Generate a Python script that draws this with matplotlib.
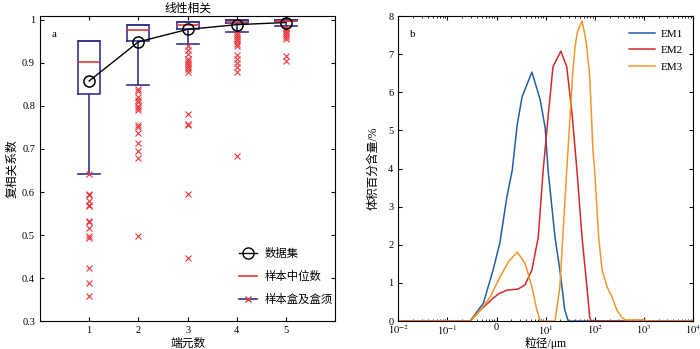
import matplotlib
matplotlib.use("Agg")
import matplotlib.pyplot as plt
from matplotlib.lines import Line2D

plt.rcParams["font.family"] = ["Liberation Serif", "Noto Sans CJK SC"]
plt.rcParams["mathtext.fontset"] = "stix"
plt.rcParams["axes.unicode_minus"] = False

# ---- panel a: box stats per number of end members
n_em = [1, 2, 3, 4, 5]
q1 = [0.828, 0.950, 0.979, 0.993, 0.997]
med = [0.902, 0.977, 0.989, 0.996, 0.998]
q3 = [0.952, 0.988, 0.996, 0.999, 0.999]
whis_lo = [0.643, 0.848, 0.945, 0.972, 0.985]
whis_hi = [0.952, 0.988, 0.996, 0.999, 0.999]
means = [0.858, 0.949, 0.978, 0.989, 0.994]
fliers = [
    [0.643, 0.596, 0.592, 0.578, 0.570, 0.567, 0.532, 0.530, 0.517, 0.498, 0.493, 0.424, 0.389, 0.359],
    [0.840, 0.835, 0.820, 0.815, 0.810, 0.800, 0.795, 0.790, 0.755, 0.750, 0.737, 0.713, 0.695, 0.680, 0.498],
    [0.940, 0.930, 0.920, 0.910, 0.905, 0.900, 0.895, 0.890, 0.885, 0.878, 0.782, 0.758, 0.755, 0.596, 0.446],
    [0.970, 0.965, 0.960, 0.955, 0.950, 0.945, 0.940, 0.918, 0.910, 0.900, 0.890, 0.880, 0.684],
    [0.982, 0.978, 0.975, 0.970, 0.965, 0.960, 0.955, 0.915, 0.905],
]

# ---- panel b: end member grain size distributions (um, %)
size_em1 = [0.01, 0.29, 0.33, 0.54, 0.85, 1.17, 1.62, 2.09, 2.63, 3.31, 5.25, 7.76, 9.77, 11.2, 15.5, 19.5, 24.5, 28.8, 10000]
em1 = [0, 0, 0.1, 0.47, 1.34, 2.05, 3.25, 3.96, 5.14, 5.88, 6.53, 5.8, 5.07, 3.96, 2.2, 1.34, 0.29, 0, 0]
size_em2 = [0.01, 0.29, 0.47, 0.85, 1.12, 1.62, 2.75, 3.8, 5.25, 7.08, 8.91, 11.2, 14.1, 20.4, 26.9, 34.7, 43.7, 55.0, 69.2, 79.4, 85.1, 10000]
em2 = [0, 0, 0.29, 0.6, 0.72, 0.81, 0.84, 0.95, 1.34, 2.2, 3.96, 5.35, 6.67, 7.08, 6.67, 5.4, 3.9, 2.2, 0.9, 0.08, 0, 0]
size_em3 = [0.01, 0.29, 0.47, 0.74, 1.17, 1.74, 2.63, 3.8, 5.25, 6.61, 7.76, 15.5, 19.5, 26.9, 31.6, 35.5, 39.8, 44.7,
            55.0, 63.1, 69.2, 79.4, 91.2, 100, 120, 141, 178, 224, 282, 355, 417, 1000, 1259, 10000]
em3 = [0, 0, 0.29, 0.63, 1.15, 1.55, 1.81, 1.52, 0.9, 0.29, 0, 0, 0.9, 3.96, 5.4, 6.5, 7.2, 7.6,
       7.87, 7.5, 7.17, 6.38, 4.54, 3.9, 2.2, 1.34, 0.9, 0.63, 0.29, 0.1, 0.03, 0.03, 0, 0]

box_c = "#33338f"
red_c = "#e8383d"

fig = plt.figure(figsize=(7, 3.49), dpi=100)
ax1 = fig.add_axes([0.057, 0.080, 0.422, 0.874])
ax2 = fig.add_axes([0.569, 0.080, 0.421, 0.874])

stats = []
for i in range(len(n_em)):
    stats.append(dict(med=med[i], q1=q1[i], q3=q3[i], whislo=whis_lo[i],
                      whishi=whis_hi[i], fliers=fliers[i], mean=means[i]))
ax1.bxp(stats, positions=n_em, widths=0.45, capwidths=0.45, showfliers=True,
        boxprops=dict(color=box_c, lw=1.2),
        whiskerprops=dict(color=box_c, lw=1.2, ls="-"),
        capprops=dict(color=box_c, lw=1.2),
        medianprops=dict(color=red_c, lw=1.2),
        flierprops=dict(marker="x", markeredgecolor=red_c, markersize=4, markeredgewidth=0.8, ls="none"))
ax1.plot(n_em, means, "k-", lw=1, marker="o", markersize=8, markerfacecolor="none",
         markeredgecolor="k", markeredgewidth=1.1, zorder=5)

ax1.set_xlim(0, 6)
ax1.set_ylim(0.3, 1.009)
ax1.set_xticks(n_em)
ax1.set_xticklabels([str(v) for v in n_em])
ax1.set_yticks([0.3, 0.4, 0.5, 0.6, 0.7, 0.8, 0.9, 1.0])
ax1.set_yticklabels(["0.3", "0.4", "0.5", "0.6", "0.7", "0.8", "0.9", "1"])
ax1.tick_params(direction="in", top=True, right=True, labelsize=7.5, length=3)
ax1.set_xlabel("端元数", fontsize=8.5, labelpad=2)
ax1.set_ylabel("复相关系数", fontsize=8.5, labelpad=3)
ax1.set_title("线性相关", fontsize=8.5, pad=3)
ax1.text(0.04, 0.93, "a", transform=ax1.transAxes, fontsize=8)

handles = [
    Line2D([], [], color="k", lw=1, marker="o", markerfacecolor="none", markersize=8),
    Line2D([], [], color=red_c, lw=1.2),
    Line2D([], [], color=box_c, lw=1.2, marker="x", markeredgecolor=red_c, markersize=4),
]
ax1.legend(handles, ["数据集", "样本中位数", "样本盒及盒须"], loc="lower left",
           bbox_to_anchor=(0.64, 0.02), frameon=False, fontsize=8.2,
           handlelength=1.6, labelspacing=1.05, handletextpad=0.6)

ax2.plot(size_em1, em1, color="#2060a8", lw=1.1, label="EM1")
ax2.plot(size_em2, em2, color="#d22a2a", lw=1.1, label="EM2")
ax2.plot(size_em3, em3, color="#f0962a", lw=1.1, label="EM3")
ax2.set_xscale("log")
ax2.set_xlim(0.01, 10000)
ax2.set_ylim(0, 8)
ax2.set_xticks([0.01, 0.1, 1, 10, 100, 1000, 10000])
ax2.set_xticklabels(["$10^{-2}$", "$10^{-1}$", "0", "$10^{1}$", "$10^{2}$", "$10^{3}$", "$10^{4}$"])
ax2.set_yticks(range(0, 9))
ax2.tick_params(which="both", direction="in", top=True, right=True, labelsize=7.5)
ax2.tick_params(which="major", length=3)
ax2.tick_params(which="minor", length=1.5)
ax2.tick_params(axis="x", pad=1.5)
ax2.set_xlabel("粒径/μm", fontsize=8.5, labelpad=0)
ax2.set_ylabel("体积百分含量/%", fontsize=8.5, labelpad=6)
ax2.text(0.04, 0.93, "b", transform=ax2.transAxes, fontsize=8)
ax2.legend(loc="upper right", bbox_to_anchor=(1.0, 0.99), frameon=False, fontsize=8,
           handlelength=2.4, labelspacing=0.6, handletextpad=0.5)

fig.savefig("out.png", dpi=100)
